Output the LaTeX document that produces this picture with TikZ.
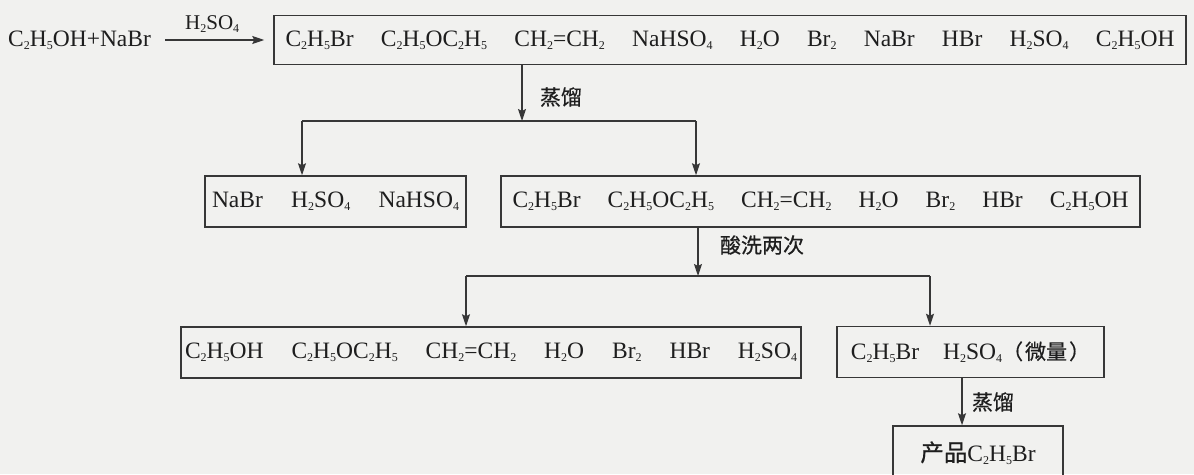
\documentclass[tikz,border=0pt]{standalone}
\usepackage{fontspec}
\setmainfont{Liberation Serif}
\newfontfamily\cjk{Noto Sans CJK SC}[FakeBold=0.6]
\usetikzlibrary{arrows.meta}
\definecolor{bgc}{RGB}{241,241,239}
\definecolor{linec}{RGB}{55,55,55}
\definecolor{txtc}{RGB}{30,30,30}
\newcommand{\chsub}[1]{\raisebox{-0.3ex}{\fontsize{12}{12}\selectfont #1}}
\newcommand{\ethbr}{C\chsub{2}H\chsub{5}Br}
\newcommand{\ethoh}{C\chsub{2}H\chsub{5}OH}
\newcommand{\ether}{C\chsub{2}H\chsub{5}OC\chsub{2}H\chsub{5}}
\newcommand{\ethene}{CH\chsub{2}=CH\chsub{2}}
\newcommand{\hhso}{H\chsub{2}SO\chsub{4}}
\newcommand{\nahso}{NaHSO\chsub{4}}
\newcommand{\water}{H\chsub{2}O}
\newcommand{\brom}{Br\chsub{2}}
\begin{document}
\begin{tikzpicture}[x=1pt,y=-1pt,
  every node/.style={text=txtc, font=\fontsize{23.5}{28}\selectfont},
  box/.style={draw=linec, line width=1.5pt, inner sep=0pt},
  lbl/.style={font=\cjk\fontsize{21}{24}\selectfont, text=txtc, inner sep=0pt},
  arr/.style={draw=linec, line width=1.5pt, -{Stealth[length=12pt,width=8pt,inset=2pt]}},
  ln/.style={draw=linec, line width=1.5pt}]
\useasboundingbox (0,0) rectangle (1194,474);
\fill[bgc] (0,0) rectangle (1194,474);

% reactants
\node[inner sep=0pt, anchor=west] (r) at (8,40) {\ethoh+NaBr};

% boxes
\node[box, minimum width=912pt, minimum height=49pt] (b1) at (730,40)
  {\makebox[889pt]{\ethbr\hfill\ether\hfill\ethene\hfill\nahso\hfill\water\hfill\brom\hfill NaBr\hfill HBr\hfill\hhso\hfill\ethoh}};
\node[box, minimum width=261pt, minimum height=51pt] (b2a) at (335.5,201.5)
  {\makebox[247pt]{NaBr\hfill\hhso\hfill\nahso}};
\node[box, minimum width=639pt, minimum height=51pt] (b2b) at (820.5,201.5)
  {\makebox[616pt]{\ethbr\hfill\ether\hfill\ethene\hfill\water\hfill\brom\hfill HBr\hfill\ethoh}};
\node[box, minimum width=620pt, minimum height=51pt] (b3a) at (491,352.5)
  {\makebox[612pt]{\ethoh\hfill\ether\hfill\ethene\hfill\water\hfill\brom\hfill HBr\hfill\hhso}};
\node[box, minimum width=267pt, minimum height=51pt] (b3b) at (970.5,352)
  {\ethbr\hspace{24pt}\hhso{\cjk\fontsize{21}{24}\selectfont（\hspace{2pt}微量\hspace{2pt}）}};
\node[box, minimum width=170pt, minimum height=54pt] (b4) at (978,453)
  {{\cjk 产品}\ethbr};

% reaction arrow
\draw[arr, shorten <=14pt, shorten >=9pt] (r.east) -- (b1.west)
  node[midway, above=7pt, inner sep=0pt, font=\fontsize{21}{24}\selectfont] (cat) {\hhso};

% first distillation
\coordinate (j1) at (522,121);
\coordinate (j1l) at (302,121);
\coordinate (j1r) at (696,121);
\draw[arr] (b1.south -| j1) -- (j1);
\node[lbl] (l1) at (561,97) {蒸馏};
\draw[ln] (j1l) -- (j1r);
\draw[arr] (j1l) -- (b2a.north -| j1l);
\draw[arr] (j1r) -- (b2b.north -| j1r);

% acid wash
\coordinate (j2) at (698,276);
\coordinate (j2l) at (466,276);
\coordinate (j2r) at (930,276);
\draw[arr] (b2b.south -| j2) -- (j2);
\node[lbl] (l2) at (762,245) {酸洗两次};
\draw[ln] (j2l) -- (j2r);
\draw[arr] (j2l) -- (b3a.north -| j2l);
\draw[arr] (j2r) -- (b3b.north -| j2r);

% second distillation
\coordinate (j3) at (962,400);
\draw[arr] (b3b.south -| j3) -- (b4.north -| j3);
\node[lbl] (l3) at (993,402) {蒸馏};
\end{tikzpicture}
\end{document}
